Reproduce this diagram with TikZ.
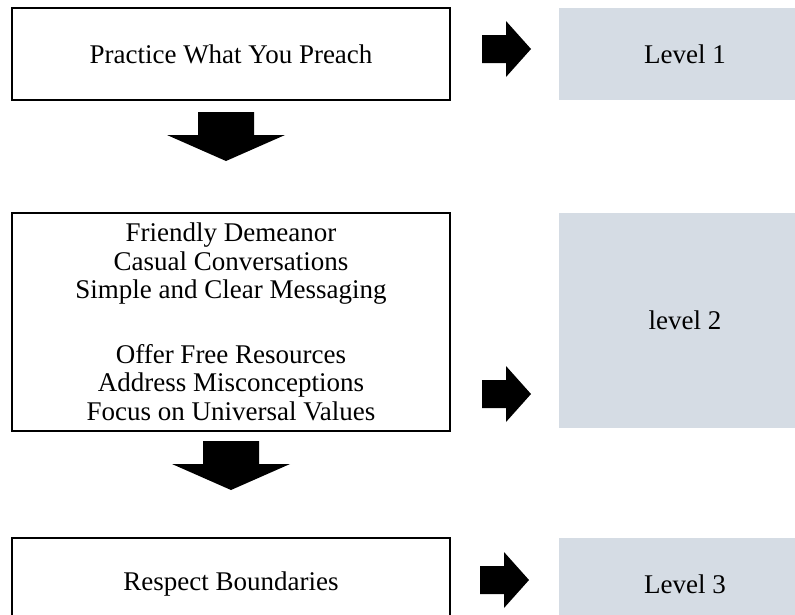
\documentclass[tikz,border=0pt]{standalone}
\usepackage{fontspec}
\setmainfont{Liberation Serif}
\usepackage{tikz}
\usetikzlibrary{shadows}
\definecolor{levelgray}{RGB}{213,220,228}

\begin{document}
\begin{tikzpicture}[x=1pt, y=-1pt,
  stepbox/.style={draw, fill=white, line width=1.5pt, align=center, inner sep=0pt,
    minimum width=438pt, font=\fontsize{27}{28.5}\selectfont,
    drop shadow={shadow xshift=1pt, shadow yshift=-1pt, fill=black, opacity=1}},
  levelbox/.style={fill=levelgray, inner sep=0pt, minimum width=252pt,
    font=\fontsize{27}{28.5}\selectfont}]
  \useasboundingbox (0,0) rectangle (795,614);

  \node[stepbox, minimum height=92pt] (practice) at (231,54) {Practice What You Preach};
  \node[stepbox, minimum height=218pt] (approach) at (231,322)
    {Friendly Demeanor\\Casual Conversations\\Simple and Clear Messaging\\[36pt]
     Offer Free Resources\\Address Misconceptions\\Focus on Universal Values};
  \node[stepbox, minimum height=92pt] (respect) at (231,584) {Respect Boundaries};

  \node[levelbox, minimum height=92pt] (level1) at (685,54) {Level 1};
  \node[levelbox, minimum height=215pt] (level2) at (685,320.5) {level 2};
  \node[levelbox, minimum height=92pt] (level3) at (685,584) {Level 3};

  % block arrows to the levels
  \foreach \x/\y in {482/49, 482/394, 480/580}
    \fill[shift={(\x,\y)}] (0,-14) -- (24,-14) -- (24,-28) -- (49,0)
      -- (24,28) -- (24,14) -- (0,14) -- cycle;

  % block arrows down
  \foreach \x/\y in {226/112, 231/441}
    \fill[shift={(\x,\y)}] (-28,0) -- (28,0) -- (28,23) -- (59,23)
      -- (0,49) -- (-59,23) -- (-28,23) -- cycle;
\end{tikzpicture}
\end{document}
